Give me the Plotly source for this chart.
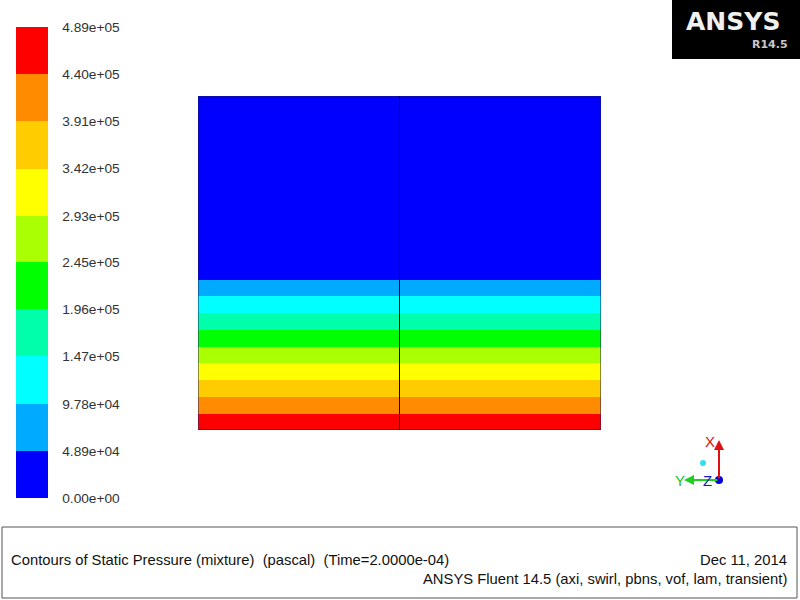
import plotly.graph_objects as go

# contour levels (pascal) and the Fluent band colours
levels = [0, 48900, 97800, 147000, 196000, 245000, 293000, 342000, 391000, 440000, 489000]
level_labels = ["0.00e+00", "4.89e+04", "9.78e+04", "1.47e+05", "1.96e+05",
                "2.45e+05", "2.93e+05", "3.42e+05", "3.91e+05", "4.40e+05", "4.89e+05"]
band_colors = ["#0000FF", "#00AAFF", "#00FFFF", "#00FFAA", "#00FF00",
               "#AAFF00", "#FFFF00", "#FFCC00", "#FF8C00", "#FF0000"]

# domain: height (axial, X) band edges, bottom to top, and radial edges
height_edges = [0.0, 0.048, 0.099, 0.150, 0.201, 0.249, 0.299, 0.350, 0.401, 0.449, 1.0]
band_pressure = [464500, 415500, 366500, 317500, 269000, 220500, 171000, 122400, 73350, 24450]
radial_edges = [-1.0, 0.0, 1.0]

W, H = 800, 600

# discrete colorscale
zmin, zmax = levels[0], levels[-1]
cscale = []
for i, c in enumerate(band_colors):
    cscale.append([(levels[i] - zmin) / (zmax - zmin), c])
    cscale.append([(levels[i + 1] - zmin) / (zmax - zmin), c])

z = [[p, p] for p in band_pressure]

fig = go.Figure()
fig.add_trace(go.Heatmap(
    x=radial_edges, y=height_edges, z=z,
    colorscale=cscale, zmin=zmin, zmax=zmax,
    hoverinfo="skip",
    colorbar=dict(
        x=16 / W, xanchor="left",
        y=(H - 498) / H, yanchor="bottom",
        len=471, lenmode="pixels",
        thickness=32, thicknessmode="pixels",
        xpad=0, ypad=0, outlinewidth=0,
        tickvals=levels, ticktext=level_labels,
        ticks="outside", ticklen=12, tickcolor="rgba(0,0,0,0)",
        tickfont=dict(family="Liberation Sans, Arial", size=13.7, color="#333333"),
    ),
))

# outline of the domain and the centre line
fig.add_shape(type="rect", x0=radial_edges[0], x1=radial_edges[-1],
              y0=height_edges[0], y1=height_edges[-1],
              line=dict(color="#1a1a60", width=1))
fig.add_shape(type="line", x0=0, x1=0, y0=height_edges[0], y1=height_edges[-1],
              line=dict(color="#000000", width=1))

# footer box
fig.add_shape(type="rect", xref="paper", yref="paper",
              x0=2 / W, x1=797 / W, y0=(H - 598) / H, y1=(H - 527) / H,
              line=dict(color="#555555", width=1))
foot = dict(family="Liberation Sans, Arial", size=14.8, color="#111111")
fig.add_annotation(xref="paper", yref="paper", x=9 / W, y=(H - 560) / H,
                   text="Contours of Static Pressure (mixture)\u00a0\u00a0(pascal)\u00a0\u00a0(Time=2.0000e-04)",
                   showarrow=False, xanchor="left", yanchor="middle", font=foot)
fig.add_annotation(xref="paper", yref="paper", x=789 / W, y=(H - 560) / H,
                   text="Dec 11, 2014", showarrow=False,
                   xanchor="right", yanchor="middle", font=foot)
fig.add_annotation(xref="paper", yref="paper", x=789 / W, y=(H - 579) / H,
                   text="ANSYS Fluent 14.5 (axi, swirl, pbns, vof, lam, transient)",
                   showarrow=False, xanchor="right", yanchor="middle", font=foot)

# ANSYS logo
fig.add_shape(type="rect", xref="paper", yref="paper",
              x0=672 / W, x1=1.0, y0=(H - 59) / H, y1=1.0,
              fillcolor="black", line=dict(width=0))
fig.add_annotation(xref="paper", yref="paper", x=733 / W, y=(H - 22) / H,
                   text="<b>ANSYS</b>", showarrow=False,
                   xanchor="center", yanchor="middle",
                   font=dict(family="DejaVu Sans, Liberation Sans", size=25, color="#f0f0f0"))
fig.add_annotation(xref="paper", yref="paper", x=770 / W, y=(H - 45) / H,
                   text="<b>R14.5</b>", showarrow=False,
                   xanchor="center", yanchor="middle",
                   font=dict(family="DejaVu Sans, Liberation Sans", size=11, color="#c8c8c8"))

# axis triad
ox, oy = 719 / W, (H - 480) / H
fig.add_annotation(xref="paper", yref="paper", x=ox, y=(H - 440) / H,
                   ax=0, ay=40, axref="pixel", ayref="pixel",
                   showarrow=True, arrowhead=2, arrowsize=1, arrowwidth=2,
                   arrowcolor="#e01010", text="")
fig.add_annotation(xref="paper", yref="paper", x=684 / W, y=oy,
                   ax=35, ay=0, axref="pixel", ayref="pixel",
                   showarrow=True, arrowhead=2, arrowsize=1, arrowwidth=2,
                   arrowcolor="#20d020", text="")
tri = dict(family="Liberation Sans, Arial", size=15)
for label, lx, ly, col in [("X", 710, 441, "#e01010"), ("Y", 680, 480, "#20c020"),
                           ("Z", 707, 480, "#1020c0")]:
    fig.add_annotation(xref="paper", yref="paper", x=lx / W, y=(H - ly) / H, text=label,
                       showarrow=False, xanchor="center", yanchor="middle",
                       font=dict(color=col, **tri))
fig.add_shape(type="circle", xref="paper", yref="paper",
              x0=715 / W, x1=723 / W, y0=(H - 484) / H, y1=(H - 476) / H,
              fillcolor="#0000e0", line=dict(width=0))
fig.add_shape(type="circle", xref="paper", yref="paper",
              x0=700 / W, x1=706 / W, y0=(H - 466) / H, y1=(H - 460) / H,
              fillcolor="#30e0f0", line=dict(width=0))

fig.update_layout(
    width=W, height=H,
    margin=dict(l=0, r=0, t=0, b=0, autoexpand=False),
    paper_bgcolor="white", plot_bgcolor="white",
    xaxis=dict(domain=[198 / W, 601 / W], range=[radial_edges[0], radial_edges[-1]],
               visible=False, fixedrange=True),
    yaxis=dict(domain=[(H - 430) / H, (H - 96) / H], range=[height_edges[0], height_edges[-1]],
               visible=False, fixedrange=True),
    showlegend=False,
)

# drop the page's default body margin so the figure sits at the window corner
fig.write_html("out.html", config={"displayModeBar": False},
               post_script="document.body.style.margin='0';")
